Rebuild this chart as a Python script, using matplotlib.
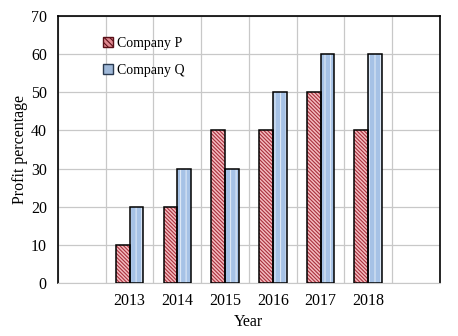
import matplotlib
matplotlib.use("Agg")
import matplotlib.pyplot as plt
from matplotlib.patches import Patch
import numpy as np

years = ["2013", "2014", "2015", "2016", "2017", "2018"]
company_p = [10, 20, 40, 40, 50, 40]
company_q = [20, 30, 30, 50, 60, 60]

plt.rcParams["font.family"] = ["Liberation Serif", "DejaVu Serif"]
plt.rcParams["hatch.linewidth"] = 0.8

fig = plt.figure(figsize=(4.58, 3.36), dpi=100)
ax = fig.add_axes([0.1266, 0.158, 0.834, 0.794])

# first and last columns stay empty
x = np.arange(2, len(years) + 2)
w = 0.29

# hatch layer (edge colour = hatch colour), then black outline on top
ax.bar(x - w / 2, company_p, w, facecolor="#f4bcc0", edgecolor="#a8303c",
       hatch="\\" * 9, linewidth=0, zorder=3)
ax.bar(x + w / 2, company_q, w, facecolor="#a6c2e6", edgecolor="#dde8f6",
       hatch="|||", linewidth=0, zorder=3)
ax.bar(x - w / 2, company_p, w, facecolor="none", edgecolor="black",
       linewidth=1.1, zorder=4)
ax.bar(x + w / 2, company_q, w, facecolor="none", edgecolor="black",
       linewidth=1.1, zorder=4)

ax.set_xlim(0.5, 8.5)
ax.set_ylim(0, 70)
ax.set_yticks(range(0, 71, 10))
ax.set_xticks(x)
ax.set_xticklabels(years)
ax.set_xticks(np.arange(0.5, 8.6, 1), minor=True)
ax.grid(True, which="minor", axis="x", color="#c8c8c8", linewidth=0.9, zorder=0)
ax.grid(True, which="major", axis="y", color="#c8c8c8", linewidth=0.9, zorder=0)
ax.tick_params(which="both", length=0, labelsize=11.5, pad=7)
ax.tick_params(axis="y", pad=8)

for s in ["left", "right", "top"]:
    ax.spines[s].set_color("black")
    ax.spines[s].set_linewidth(1.2)
ax.spines["bottom"].set_color("#c8c8c8")

ax.set_xlabel("Year", fontsize=11.5, labelpad=4)
ax.set_ylabel("Profit percentage", fontsize=11.5, labelpad=2)

handles = [
    Patch(facecolor="#e08890", edgecolor="#5a1018", hatch="\\" * 6, label="Company P"),
    Patch(facecolor="#9fb8d8", edgecolor="#2a3a50", label="Company Q"),
]
ax.legend(handles=handles, loc="upper left", bbox_to_anchor=(0.085, 0.97),
          frameon=False, fontsize=10, handlelength=0.7, handleheight=0.7,
          handletextpad=0.3, labelspacing=1.0)

fig.savefig("out.png", dpi=100)
